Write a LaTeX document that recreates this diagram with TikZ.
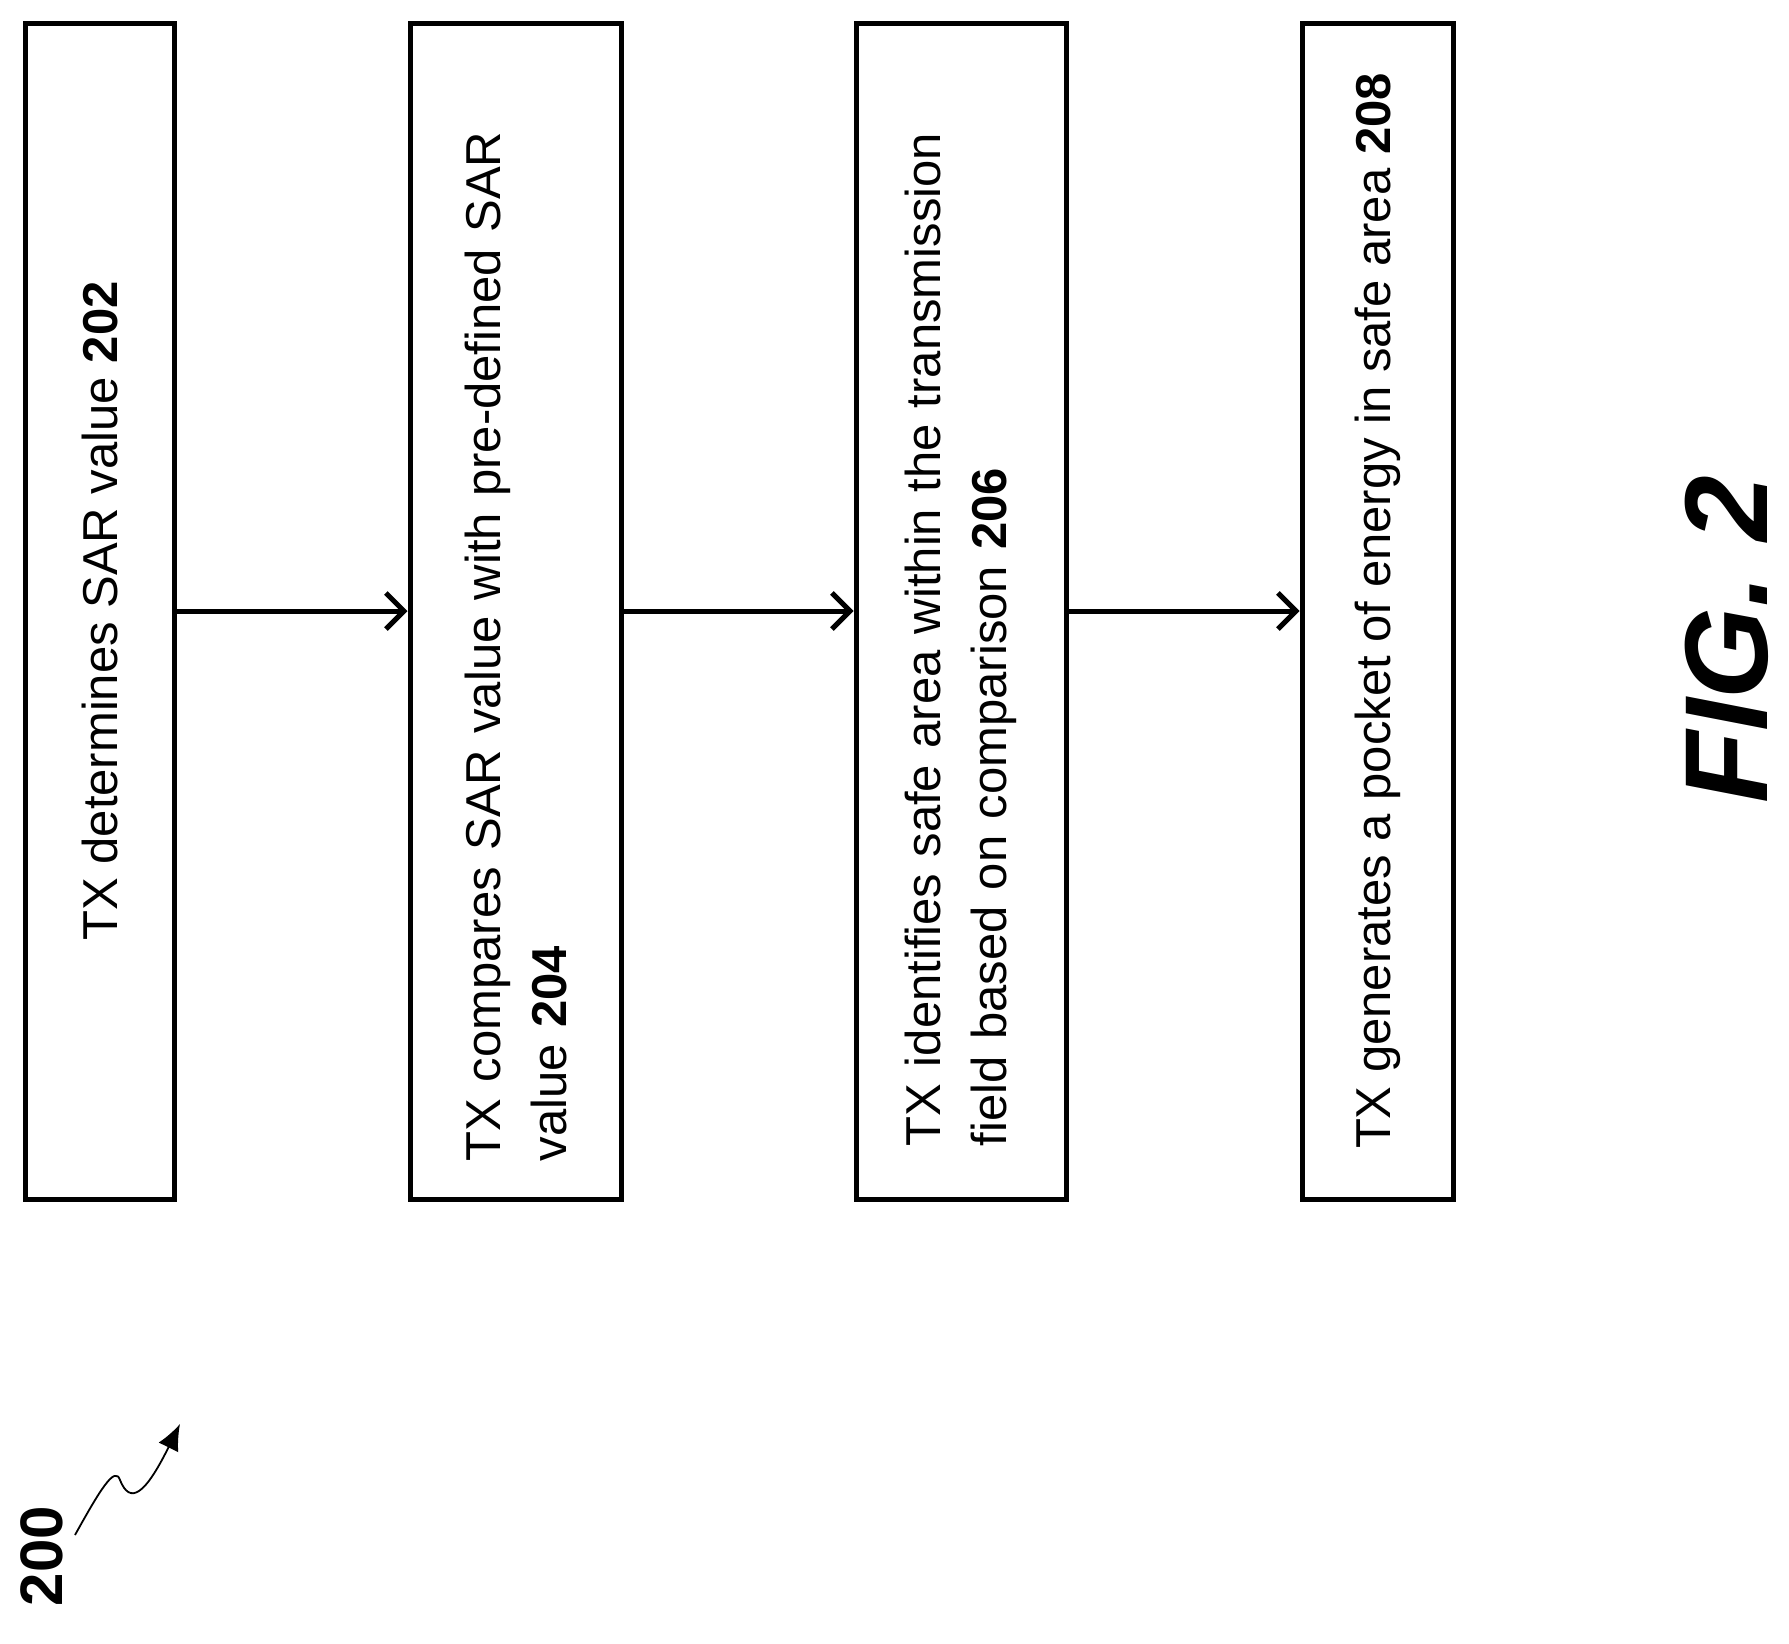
\documentclass[tikz,border=0pt]{standalone}
\usepackage{fontspec}
\setmainfont{Liberation Sans}
\usetikzlibrary{arrows.meta}
\begin{document}
\begin{tikzpicture}[x=1pt,y=-1pt,
  box/.style={draw,line width=5pt,rotate=90,minimum width=1176pt,inner sep=0pt,
    font=\fontsize{49}{66}\selectfont},
  arr/.style={line width=5pt,-{Straight Barb[length=18pt,width=36pt,line width=5pt]}}]
\useasboundingbox (0,0) rectangle (1789,1644);
\node[box,minimum height=149pt] (b1) at (99.5,611) {TX determines SAR value \textbf{202}};
\node[box,minimum height=211pt,text width=1100pt,align=left] (b2) at (515.5,611) {TX compares SAR value with pre-defined SAR\\value \textbf{204}};
\node[box,minimum height=210pt,text width=1070pt,align=left] (b3) at (961,611) {TX identifies safe area within the transmission\\field based on comparison \textbf{206}};
\node[box,minimum height=151pt] (b4) at (1377.5,611) {TX generates a pocket of energy in safe area \textbf{208}};
\draw[arr] (b1.south) -- (b2.north);
\draw[arr] (b2.south) -- (b3.north);
\draw[arr] (b3.south) -- (b4.north);
\node[rotate=90,font=\fontsize{118}{118}\selectfont\bfseries\itshape] (fig) at (1727,640) {FIG. 2};
\node[rotate=90,font=\fontsize{60}{60}\selectfont\bfseries] (n200) at (42,1556) {200};
\coordinate (s0) at (75,1535);
\coordinate (s1) at (180,1424);
\draw[line width=1.8pt,-{Latex[length=26pt,width=22pt]}] (s0) .. controls (100,1490) and (115,1465) .. (120,1480) .. controls (130,1505) and (145,1495) .. (s1);
\end{tikzpicture}
\end{document}
